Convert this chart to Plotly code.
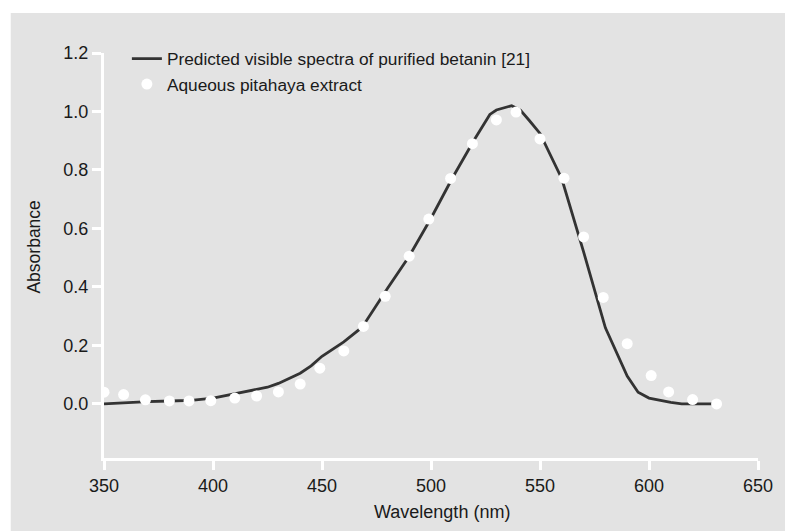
import plotly.graph_objects as go

# Predicted spectrum of purified betanin (line)
line_wl = [350, 360, 370, 380, 390, 400, 410, 420, 425, 430, 440, 445, 450, 460, 467,
           470, 480, 490, 500, 510, 520, 527, 530, 537, 541, 545, 550, 560, 570, 580,
           590, 595, 600, 610, 615, 630]
line_abs = [0.0, 0.005, 0.008, 0.01, 0.012, 0.02, 0.035, 0.05, 0.057, 0.07, 0.105,
            0.13, 0.163, 0.212, 0.254, 0.28, 0.395, 0.505, 0.635, 0.775, 0.905, 0.99,
            1.005, 1.02, 1.005, 0.97, 0.925, 0.77, 0.52, 0.26, 0.095, 0.04, 0.02, 0.005,
            0.0, 0.0]

# Aqueous pitahaya extract (points)
pt_wl = [350, 359, 369, 380, 389, 399, 410, 420, 430, 440, 449, 460, 469, 479,
         490, 499, 509, 519, 530, 539, 550, 561, 570, 579, 590, 601, 609, 620, 631]
pt_abs = [0.04, 0.032, 0.014, 0.01, 0.01, 0.011, 0.02, 0.027, 0.041, 0.068, 0.122,
          0.181, 0.265, 0.368, 0.505, 0.632, 0.771, 0.89, 0.971, 0.998, 0.906, 0.772,
          0.571, 0.364, 0.206, 0.097, 0.041, 0.015, 0.0]

x_ticks = [350, 400, 450, 500, 550, 600, 650]
y_ticks = [0.0, 0.2, 0.4, 0.6, 0.8, 1.0, 1.2]

bg = "#e3e3e3"
txt = "#1a1a1a"
fig = go.Figure()
fig.add_trace(go.Scatter(x=line_wl, y=line_abs, mode="lines",
                         name="Predicted visible spectra of purified betanin [21]",
                         line=dict(color="#333333", width=2.8)))
fig.add_trace(go.Scatter(x=pt_wl, y=pt_abs, mode="markers",
                         name="Aqueous pitahaya extract",
                         marker=dict(color="white", size=11)))

# gray panel, slightly inset from the top-left edge of the page
fig.add_shape(type="rect", xref="paper", yref="paper", layer="below",
              x0=-0.1426, x1=1.1, y0=-0.3, y1=1.0988,
              fillcolor=bg, line=dict(width=0))

# axis titles
fig.add_annotation(text="Wavelength (nm)", xref="paper", yref="paper",
                   x=0.517, y=-0.133, xanchor="center", yanchor="middle",
                   showarrow=False, font=dict(size=18, color=txt))
fig.add_annotation(text="Absorbance", xref="paper", yref="paper", textangle=-90,
                   x=-0.1077, y=0.521, xanchor="center", yanchor="middle",
                   showarrow=False, font=dict(size=17.5, color=txt))

fig.update_layout(
    width=785, height=531,
    paper_bgcolor="white", plot_bgcolor="rgba(0,0,0,0)",
    margin=dict(l=104, r=22, t=53, b=73),
    font=dict(family="Liberation Sans, Arial, sans-serif", size=18, color=txt),
    showlegend=True,
    legend=dict(x=0.035, y=1.03, xanchor="left", yanchor="top",
                bgcolor="rgba(0,0,0,0)", font=dict(size=17.3), tracegroupgap=0),
    xaxis=dict(range=[350, 650], tickvals=x_ticks, ticktext=[str(v) for v in x_ticks],
               showgrid=False, zeroline=False, showline=True, linecolor="white",
               linewidth=3, ticks="outside", tickcolor="white", ticklen=9, tickwidth=3),
    yaxis=dict(range=[-0.185, 1.2], tickvals=y_ticks, ticktext=[f"{v:.1f}" for v in y_ticks],
               showgrid=False, zeroline=False, showline=True, linecolor="white",
               linewidth=3, ticks="outside", tickcolor="white", ticklen=9, tickwidth=3),
)

fig.write_html("out.html", config={"displayModeBar": False},
               post_script="document.body.style.margin='0';document.body.style.overflow='hidden';")
